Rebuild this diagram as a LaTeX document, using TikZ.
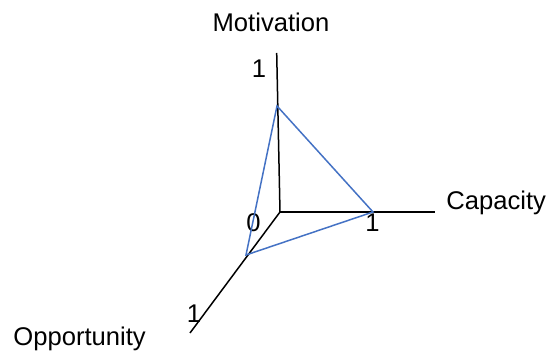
\documentclass[tikz,border=0pt]{standalone}
\usepackage{fontspec}
\setmainfont{Liberation Sans}
\usepackage{xcolor}
\usetikzlibrary{calc}
\definecolor{triblue}{RGB}{68,114,196}
\tikzset{
  axis/.style={draw=black, line width=0.75pt},
  tri/.style={draw=triblue, line width=0.75pt, line join=miter},
  albl/.style={font=\fontsize{12.8}{15}\selectfont, inner sep=0pt},
  tick/.style={font=\fontsize{12.8}{15}\selectfont, inner sep=0pt, anchor=base}
}
\begin{document}
\begin{tikzpicture}[x=0.5pt, y=-0.5pt]
\useasboundingbox (0,0) rectangle (547,351);
% ---- axes ----
\coordinate (orig) at (280,212);
\coordinate (motTop) at (276.7,53);
\coordinate (capEnd) at (435,212);
\coordinate (oppEnd) at (190,333);
\draw[axis] (orig) -- (motTop);
\draw[axis] (orig) -- (capEnd);
\draw[axis] (orig) -- (oppEnd);
% ---- axis labels ----
\node[albl, anchor=base] (mot) at (271,32) {Motivation};
\node[albl, anchor=base west] (cap) at (446,210) {Capacity};
\node[albl, anchor=base west] (opp) at (13,346) {Opportunity};
% ---- ticks ----
\node[tick] (t0) at (253.5,232) {0};
\node[tick] (tm) at (259,78) {1};
\node[tick] (tc) at (372.5,232) {1};
\node[tick] (to) at (194,323) {1};
% ---- triangle ----
\coordinate (vm) at (277,106);
\coordinate (vc) at (373,212);
\coordinate (vo) at (246,255);
\draw[tri] (vm) -- (vc) -- (vo) -- cycle;
\end{tikzpicture}
\end{document}
